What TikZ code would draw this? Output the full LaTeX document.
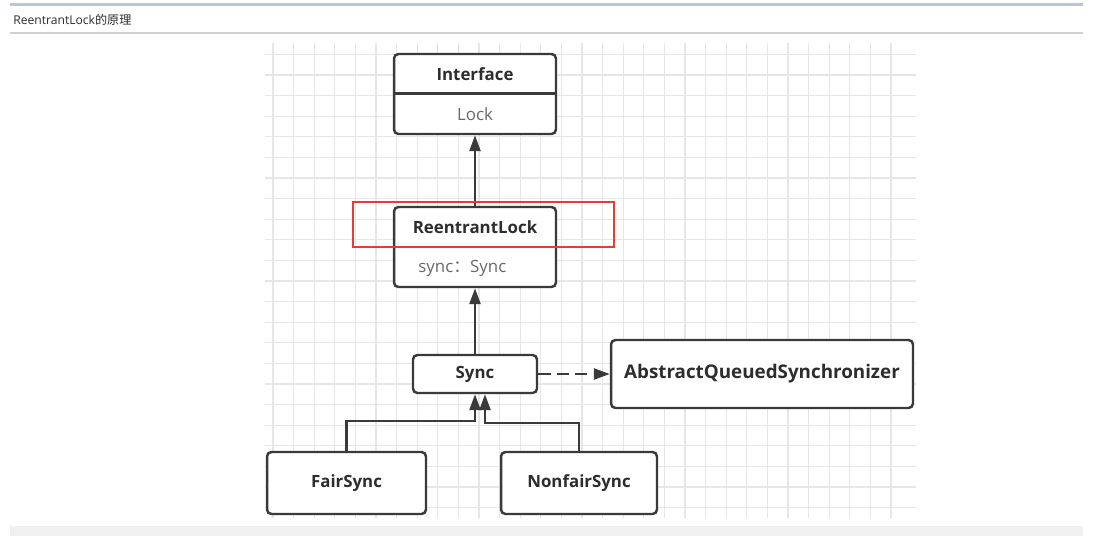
\documentclass[tikz,border=0pt]{standalone}
\usepackage{fontspec}
\setmainfont{Open Sans}
\newfontfamily\cjk{Noto Sans CJK SC}
\usepackage{tikz}
\usetikzlibrary{arrows.meta,positioning}
\definecolor{boxline}{RGB}{58,58,58}
\definecolor{textdark}{RGB}{45,45,45}
\definecolor{textgray}{RGB}{105,105,105}
\definecolor{gridgray}{RGB}{230,230,230}
\definecolor{markred}{RGB}{228,62,52}
\definecolor{barblue}{RGB}{184,198,218}
\definecolor{rulegray}{RGB}{208,208,208}
\definecolor{barlight}{RGB}{240,240,240}

\begin{document}
\begin{tikzpicture}[x=0.02cm, y=-0.02cm,
    classbox/.style={draw=boxline,fill=white,line width=1.4pt,
                     rounded corners=2.5pt,inner sep=0pt},
    classname/.style={font=\fontsize{9.6}{11}\selectfont\bfseries,
                      text=textdark,inner sep=0pt},
    member/.style={font=\fontsize{9.6}{11}\selectfont,
                   text=textgray,inner sep=0pt},
    highlight/.style={draw=markred,line width=0.8pt,inner sep=0pt},
    arr/.style={-{Triangle[length=0.32cm,width=0.22cm]},
                line width=1.4pt,draw=boxline},
    dasharr/.style={arr,dash pattern=on 7pt off 3.5pt}]

    \useasboundingbox (0,0) rectangle (1098,540);
    \fill[white] (0,0) rectangle (1098,540);

    % page frame
    \fill[barblue] (10,3) rectangle (1083,6);
    \node[anchor=west,inner sep=0pt,text=textdark,
          font=\fontsize{6.9}{8}\selectfont] (title) at (13,20)
      {ReentrantLock{\cjk 的原理}};
    \draw[rulegray,line width=0.9pt] (10,33) -- (1083,33);
    \fill[barlight] (10,526) rectangle (1083,536);

    % grid
    \foreach \gx in {0,...,30}
      \draw[gridgray,line width=0.6pt] (273+20.6*\gx,43) -- (273+20.6*\gx,518);
    \foreach \gy in {0,...,22}
      \draw[gridgray,line width=0.6pt] (265,54.4+20.6*\gy) -- (916,54.4+20.6*\gy);

    % Interface
    \node[classbox,minimum width=3.24cm,minimum height=1.6cm] (iface) at (475,94) {};
    \draw[boxline,line width=1.4pt] (iface.west |- 0,93.5) -- (iface.east |- 0,93.5);
    \node[classname] (ifacename) at (475,74) {Interface};
    \node[member] (ifacelock) at (475,114) {Lock};

    % ReentrantLock
    \node[classbox,minimum width=3.24cm,minimum height=1.6cm] (rlock) at (475,247) {};
    \draw[boxline,line width=1.4pt] (rlock.west |- 0,247) -- (rlock.east |- 0,247);
    \node[classname] (rlockname) at (475,227) {ReentrantLock};
    \node[member,anchor=west] (rlocksync) at (418,268) {sync{\cjk ：}Sync};

    % Sync and subclasses
    \node[classbox,minimum width=2.48cm,minimum height=0.76cm,classname] (sync) at (475,374) {Sync};
    \node[classbox,minimum width=6.04cm,minimum height=1.36cm,classname,
          font=\fontsize{10.7}{12}\selectfont\bfseries] (aqs) at (762,374) {AbstractQueuedSynchronizer};
    \node[classbox,minimum width=3.18cm,minimum height=1.24cm,classname] (fair) at (346.5,483) {FairSync};
    \node[classbox,minimum width=3.12cm,minimum height=1.24cm,classname] (nonfair) at (579,483) {NonfairSync};

    % connectors
    \draw[arr] (rlock.north) -- (iface.south);
    \draw[arr] (sync.north) -- (rlock.south);
    \draw[dasharr] (sync.east) -- (aqs.west);
    \draw[arr] (fair.north) |- ++(0,-30) -| (sync.south);
    \draw[arr] (nonfair.north) |- ++(0,-28) -| ([xshift=0.2cm]sync.south);

    % red mark
    \node[highlight,minimum width=5.22cm,minimum height=0.9cm] (mark) at (483.5,224.5) {};
\end{tikzpicture}
\end{document}
